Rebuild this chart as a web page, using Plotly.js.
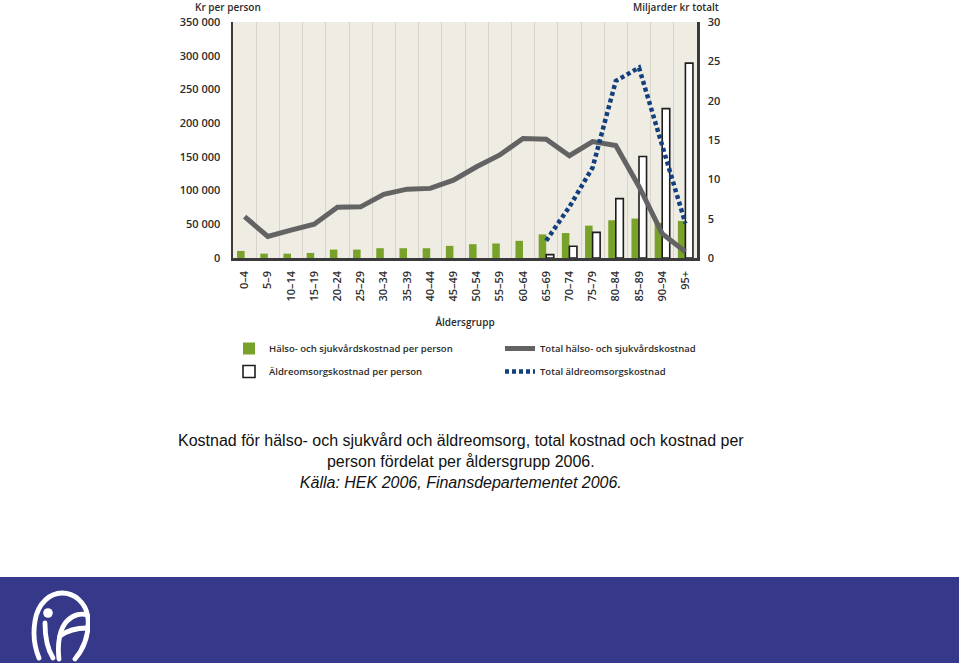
<!DOCTYPE html>
<html>
<head>
<meta charset="utf-8">
<script src="https://cdn.plot.ly/plotly-3.0.1.min.js"></script>
<style>
html,body{margin:0;padding:0;background:#fff;}
#chart{width:959px;height:663px;}
</style>
</head>
<body>
<div id="chart"></div>
<script>
// Data
var ageGroups = ["0–4","5–9","10–14","15–19","20–24","25–29","30–34","35–39","40–44","45–49","50–54","55–59","60–64","65–69","70–74","75–79","80–84","85–89","90–94","95+"];
// kr per person (left axis)
var healthPerPerson = [10500, 6500, 6500, 7500, 12500, 12500, 14500, 14500, 14500, 18000, 20500, 21500, 25500, 35000, 37000, 48000, 56000, 58500, 52000, 55000];
var elderPerPerson = [null, null, null, null, null, null, null, null, null, null, null, null, null, 5000, 17500, 38000, 88000, 150500, 221500, 289000];
// billion kr total (right axis)
var healthTotal = [5.25, 2.75, 3.55, 4.3, 6.45, 6.5, 8.1, 8.75, 8.85, 9.9, 11.6, 13.1, 15.2, 15.1, 13.0, 14.8, 14.3, 9.1, 3.1, 0.8];
var elderTotal = [null, null, null, null, null, null, null, null, null, null, null, null, null, 2.2, 6.5, 11.5, 22.5, 24.2, 14.3, 4.4];

var leftTicks = [0, 50000, 100000, 150000, 200000, 250000, 300000, 350000];
var rightTicks = [0, 5, 10, 15, 20, 25, 30];

var labelFont = {family: "Open Sans, sans-serif", size: 11, color: "#2b2b2b", weight: 600};
var legendFont = {family: "Open Sans, sans-serif", size: 9.5, color: "#2b2b2b", weight: 600};

var traces = [
  {
    type: "bar", name: "Hälso- och sjukvårdskostnad per person",
    x: ageGroups, y: healthPerPerson, yaxis: "y",
    marker: {color: "#79a22b", line: {width: 0}},
    offsetgroup: "a", legend: "legend", legendgroup: "g1", hoverinfo: "skip"
  },
  {
    type: "bar", name: "Äldreomsorgskostnad per person",
    x: ageGroups, y: elderPerPerson, yaxis: "y",
    marker: {color: "#ffffff", line: {width: 1.6, color: "#1e1e1e"}},
    offsetgroup: "b", legend: "legend", legendgroup: "g2", hoverinfo: "skip"
  },
  {
    type: "scatter", mode: "lines", name: "Total hälso- och sjukvårdskostnad",
    x: ageGroups, y: healthTotal, yaxis: "y2",
    line: {color: "#636363", width: 5},
    legend: "legend2", legendgroup: "g3", hoverinfo: "skip"
  },
  {
    type: "scatter", mode: "lines", name: "Total äldreomsorgskostnad",
    x: ageGroups, y: elderTotal, yaxis: "y2",
    line: {color: "#123f7e", width: 4.5, dash: "4px,3px"},
    legend: "legend2", legendgroup: "g4", hoverinfo: "skip"
  }
];

var W = 464, H = 236, L = 233, T = 22;
function px(x){ return (x - L) / W; }
function py(y){ return (T + H - y) / H; }

var logoSvg = '<svg xmlns="http://www.w3.org/2000/svg" viewBox="0 0 60 75">' +
  '<g fill="none" stroke="#ffffff" stroke-width="4.8" stroke-linecap="round">' +
  '<path d="M9 70 C4 58 3 45 5 33 C8 14 21 5 32 5 C44 5 56 14 58 30 C59 44 56 58 45 71"/>' +
  '<path d="M15 35 C15 50 18 62 23 70"/>' +
  '<path d="M29 71 C27 55 30 40 37 33 C44 26 52 25 57 27"/>' +
  '<path d="M30 48 C38 42 48 40 57 40"/>' +
  '</g><circle cx="18" cy="25" r="4.8" fill="#ffffff"/></svg>';

var layout = {
  width: 959, height: 663,
  margin: {l: L, r: 959 - L - W, t: T, b: 663 - T - H, pad: 0},
  paper_bgcolor: "#ffffff",
  plot_bgcolor: "#efece3",
  separators: ", ",
  barmode: "group",
  bargap: 0.35,
  bargroupgap: 0,
  showlegend: true,
  font: {family: "Open Sans, sans-serif", color: "#2b2b2b"},
  xaxis: {
    type: "category",
    tickson: "boundaries",
    showgrid: true, gridcolor: "#d8d4ca", gridwidth: 1,
    showline: true, linecolor: "#3a3a3a", linewidth: 2.5,
    ticks: "", tickangle: -90,
    tickfont: labelFont,
    ticklabelstandoff: 6,
    range: [-0.5, 19.5],
    fixedrange: true,
    title: {text: "Åldersgrupp", font: {family: "Open Sans, sans-serif", size: 10, color: "#2b2b2b", weight: 600}, standoff: 19}
  },
  yaxis: {
    range: [0, 350000],
    tickvals: leftTicks,
    tickformat: ",d",
    showgrid: false, zeroline: false,
    showline: true, linecolor: "#3a3a3a", linewidth: 2.5,
    ticks: "", tickfont: labelFont, ticklabelstandoff: 8,
    fixedrange: true
  },
  yaxis2: {
    range: [0, 30],
    tickvals: rightTicks,
    overlaying: "y", side: "right",
    showgrid: false, zeroline: false,
    showline: true, linecolor: "#3a3a3a", linewidth: 2.5,
    ticks: "", tickfont: labelFont, ticklabelstandoff: 6,
    fixedrange: true
  },
  legend: {
    x: px(229), y: py(334), xanchor: "left", yanchor: "top",
    orientation: "v", font: legendFont, bgcolor: "rgba(0,0,0,0)",
    tracegroupgap: 4, itemclick: false, itemdoubleclick: false, traceorder: "grouped"
  },
  legend2: {
    x: px(500), y: py(334), xanchor: "left", yanchor: "top",
    orientation: "v", font: legendFont, bgcolor: "rgba(0,0,0,0)",
    tracegroupgap: 4, itemclick: false, itemdoubleclick: false, traceorder: "grouped"
  },
  annotations: [
    {text: "Kr per person", xref: "paper", yref: "paper", x: px(228), y: py(7), xanchor: "center", yanchor: "middle", showarrow: false,
     font: {family: "Open Sans, sans-serif", size: 10, color: "#2b2b2b", weight: 600}},
    {text: "Miljarder kr totalt", xref: "paper", yref: "paper", x: px(676), y: py(7), xanchor: "center", yanchor: "middle", showarrow: false,
     font: {family: "Open Sans, sans-serif", size: 10, color: "#2b2b2b", weight: 600}},
    {text: "Kostnad för hälso- och sjukvård och äldreomsorg, total kostnad och kostnad per<br>person fördelat per åldersgrupp 2006.<br><i>Källa: HEK 2006, Finansdepartementet 2006.</i>",
     xref: "paper", yref: "paper", x: px(461), y: py(461), xanchor: "center", yanchor: "middle", showarrow: false, align: "center",
     font: {family: "Liberation Sans, Arial, sans-serif", size: 16, color: "#111111"}}
  ],
  shapes: [
    {type: "rect", xref: "paper", yref: "paper", x0: px(0), x1: px(959), y0: py(663), y1: py(577),
     fillcolor: "#36398a", line: {width: 0}, layer: "below"}
  ],
  images: [
    {source: "data:image/svg+xml;charset=utf-8," + encodeURIComponent(logoSvg),
     xref: "paper", yref: "paper", x: px(30), y: py(588), sizex: 60 / W, sizey: 75 / H,
     xanchor: "left", yanchor: "top", sizing: "stretch", layer: "above"}
  ]
};

Plotly.newPlot("chart", traces, layout, {displayModeBar: false, staticPlot: true});
</script>
</body>
</html>
